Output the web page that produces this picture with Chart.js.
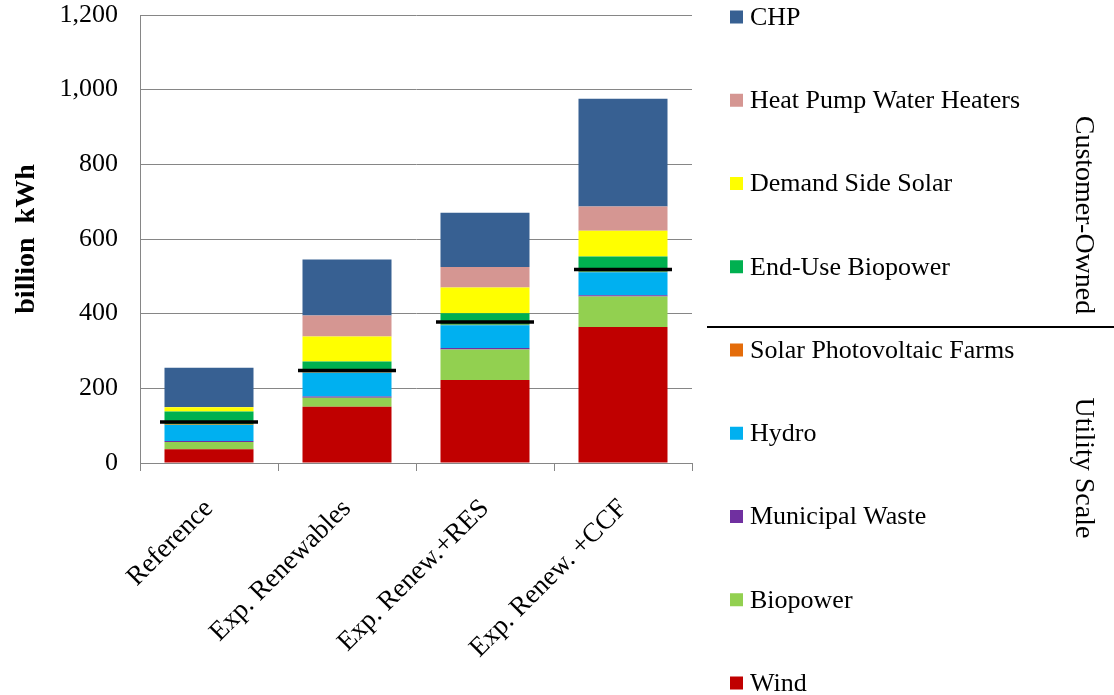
<!DOCTYPE html>
<html>
<head>
<meta charset="utf-8">
<script src="https://cdn.jsdelivr.net/npm/chart.js@4/dist/chart.umd.min.js"></script>
<style>
  body { margin: 0; background: #fff; }
  canvas { display: block; }
</style>
</head>
<body>
<canvas id="grafico" width="1114" height="695"></canvas>
<script>
const categorias = ['Reference', 'Exp. Renewables', 'Exp. Renew.+RES', 'Exp. Renew. +CCF'];

// utility scale (de baixo para cima)
const eolica = [37, 151, 222, 364];
const biopower = [19, 24, 82, 82];
const residuosMunicipais = [3, 3, 4, 3];
const hidro = [43, 64, 61, 62];
const fazendasSolares = [1, 1, 1, 1];
// customer-owned
const biopowerUsoFinal = [35, 29, 31, 41];
const solarDemanda = [11, 67, 69, 69];
const bombasCalor = [1, 56, 55, 65];
const chp = [105, 150, 145, 289];

// marcas pretas horizontais
const marcas = [110, 248, 378, 518];

const eixoY = { min: 0, max: 1200, passo: 200 };

const series = [
    { label: 'Wind', data: eolica, cor: '#C00000' },
    { label: 'Biopower', data: biopower, cor: '#92D050' },
    { label: 'Municipal Waste', data: residuosMunicipais, cor: '#7030A0' },
    { label: 'Hydro', data: hidro, cor: '#00B0F0' },
    { label: 'Solar Photovoltaic Farms', data: fazendasSolares, cor: '#E46C0A' },
    { label: 'End-Use Biopower', data: biopowerUsoFinal, cor: '#00B050' },
    { label: 'Demand Side Solar', data: solarDemanda, cor: '#FFFF00' },
    { label: 'Heat Pump Water Heaters', data: bombasCalor, cor: '#D59692' },
    { label: 'CHP', data: chp, cor: '#376092' }
];

const fonteSerif = '"Liberation Serif", "Times New Roman", serif';

function desenharVertical(ctx, texto, x, y) {
    ctx.save();
    ctx.translate(x, y);
    ctx.rotate(Math.PI / 2);
    ctx.fillText(texto, 0, 0);
    ctx.restore();
}

const legendaLateral = {
    id: 'legendaLateral',
    afterDraw(chart) {
        const ctx = chart.ctx;
        const area = chart.chartArea;
        const itens = chart.data.datasets.filter(d => d.type !== 'line').slice().reverse();
        const x0 = area.right + 38;

        ctx.save();
        ctx.font = '26px ' + fonteSerif;
        ctx.textBaseline = 'middle';
        ctx.textAlign = 'left';
        itens.forEach((ds, i) => {
            const y = 17 + i * 83.25;
            ctx.fillStyle = ds.backgroundColor;
            ctx.fillRect(x0, y - 6.5, 13, 13);
            ctx.fillStyle = '#000';
            ctx.fillText(ds.label, x0 + 20, y + 1);
        });

        ctx.strokeStyle = '#000';
        ctx.lineWidth = 2;
        ctx.beginPath();
        ctx.moveTo(area.right + 15, 327);
        ctx.lineTo(chart.width, 327);
        ctx.stroke();

        ctx.font = '28px ' + fonteSerif;
        ctx.textAlign = 'center';
        ctx.fillStyle = '#000';
        desenharVertical(ctx, 'Customer-Owned', 1083, 215);
        desenharVertical(ctx, 'Utility Scale', 1083, 468);
        ctx.restore();
    }
};

const conjuntos = series.map(s => ({
    type: 'bar',
    label: s.label,
    data: s.data,
    backgroundColor: s.cor,
    borderWidth: 0,
    stack: 'barras',
    order: 1,
    categoryPercentage: 1,
    barPercentage: 0.645
}));

conjuntos.push({
    type: 'line',
    label: 'marcas',
    data: marcas,
    stack: 'marcas',
    order: 0,
    showLine: false,
    pointStyle: 'line',
    pointRadius: 49,
    pointHoverRadius: 49,
    borderColor: '#000',
    backgroundColor: '#000',
    borderWidth: 3.5,
    pointBorderWidth: 3.5
});

new Chart(document.getElementById('grafico'), {
    type: 'bar',
    data: {
        labels: categorias,
        datasets: conjuntos
    },
    options: {
        responsive: false,
        animation: false,
        layout: {
            autoPadding: false,
            padding: { top: 15, right: 422, bottom: 0, left: 0 }
        },
        plugins: {
            legend: { display: false },
            tooltip: { enabled: false }
        },
        scales: {
            x: {
                stacked: true,
                grid: {
                    offset: true,
                    drawOnChartArea: false,
                    drawTicks: true,
                    tickLength: 8,
                    color: '#868686'
                },
                border: { display: true, color: '#868686' },
                ticks: {
                    autoSkip: false,
                    maxRotation: 45,
                    minRotation: 45,
                    padding: 22,
                    color: '#000',
                    font: { family: fonteSerif, size: 27 }
                },
                afterFit(escala) {
                    escala.height = 232;
                }
            },
            y: {
                stacked: true,
                min: eixoY.min,
                max: eixoY.max,
                grid: {
                    drawTicks: false,
                    color: '#868686'
                },
                border: { display: true, color: '#868686' },
                ticks: {
                    stepSize: eixoY.passo,
                    padding: 22,
                    color: '#000',
                    font: { family: fonteSerif, size: 26 },
                    callback: v => v.toLocaleString('en-US')
                },
                title: {
                    display: true,
                    text: 'billion  kWh',
                    color: '#000',
                    font: { family: fonteSerif, size: 28, weight: 'bold' },
                    padding: { top: 10, bottom: 6 }
                },
                afterFit(escala) {
                    escala.width = 140;
                    escala.paddingTop = 0;
                    escala.paddingBottom = 0;
                }
            }
        }
    },
    plugins: [legendaLateral]
});
</script>
</body>
</html>
